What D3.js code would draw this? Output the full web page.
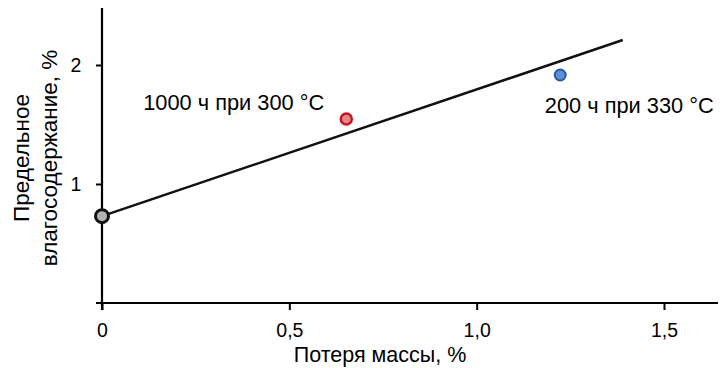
<!DOCTYPE html>
<html><head><meta charset="utf-8">
<script src="https://cdn.jsdelivr.net/npm/d3@7"></script>
<style>body{margin:0;background:#fff}svg text{font-family:"Liberation Sans",Arial,sans-serif;fill:#000}</style>
</head><body>
<svg id="c" width="720" height="368"></svg>
<script>
const xTicks = [0, 0.5, 1.0, 1.5];
const xTickLabels = ["0", "0,5", "1,0", "1,5"];
const yTicks = [1, 2];
const yTickLabels = ["1", "2"];
const fitLine = [{x: 0, y: 0.73}, {x: 1.39, y: 2.21}];
const points = [
  {x: 0, y: 0.73, fill: "#b3b3b3", stroke: "#111", r: 6.5, sw: 3},
  {x: 0.652, y: 1.546, fill: "#e0888c", stroke: "#c8141e", r: 5.5, sw: 2.5},
  {x: 1.223, y: 1.916, fill: "#5b8fd6", stroke: "#2a58a0", r: 5.5, sw: 2}
];
const labels = [
  {text: "1000 ч при 300 °C", x: 0.11, y: 1.622},
  {text: "200 ч при 330 °C", x: 1.182, y: 1.597}
];

const svg = d3.select("#c");
const x = d3.scaleLinear().domain([0, 1.5]).range([102, 664]);
const y = d3.scaleLinear().domain([0, 2]).range([303, 65]);

// x axis
const xa = svg.append("g").attr("transform", "translate(0,303)")
  .call(d3.axisBottom(x).tickValues(xTicks).tickFormat((d,i)=>xTickLabels[i]).tickSize(7).tickSizeOuter(0));
xa.select(".domain").attr("d", "M96,0H718").attr("stroke-width", 2.2);
xa.selectAll(".tick line").attr("stroke-width", 2);
xa.selectAll(".tick text").attr("font-size", 19.5).attr("dy", "1.25em");

// y axis
const ya = svg.append("g").attr("transform", "translate(102,0)")
  .call(d3.axisLeft(y).tickValues(yTicks).tickFormat((d,i)=>yTickLabels[i]).tickSize(6).tickSizeOuter(0));
ya.select(".domain").attr("d", "M0,8V310").attr("stroke-width", 2.2);
ya.selectAll(".tick line").attr("stroke-width", 2);
ya.selectAll(".tick text").attr("font-size", 19.5).attr("dx", "-0.6em").attr("dy", "0.35em");

// axis titles
svg.append("text").attr("x", 380).attr("y", 362).attr("text-anchor", "middle").attr("font-size", 21.5).text("Потеря массы, %");
const yt = svg.append("text").attr("transform", "translate(0,158) rotate(-90)").attr("text-anchor", "middle").attr("font-size", 22.5);
yt.append("tspan").attr("x", 0).attr("y", 29).text("Предельное");
yt.append("tspan").attr("x", 0).attr("y", 57).text("влагосодержание, %");

// fit line
svg.append("path").datum(fitLine)
  .attr("d", d3.line().x(d=>x(d.x)).y(d=>y(d.y)))
  .attr("stroke", "#111").attr("stroke-width", 2.5).attr("fill", "none");

// points
svg.selectAll("circle.p").data(points).join("circle")
  .attr("cx", d=>x(d.x)).attr("cy", d=>y(d.y)).attr("r", d=>d.r)
  .attr("fill", d=>d.fill).attr("stroke", d=>d.stroke).attr("stroke-width", d=>d.sw);

// labels
svg.selectAll("text.l").data(labels).join("text")
  .attr("x", d=>x(d.x)).attr("y", d=>y(d.y)).attr("font-size", 21.8).text(d=>d.text);
</script>
</body></html>
